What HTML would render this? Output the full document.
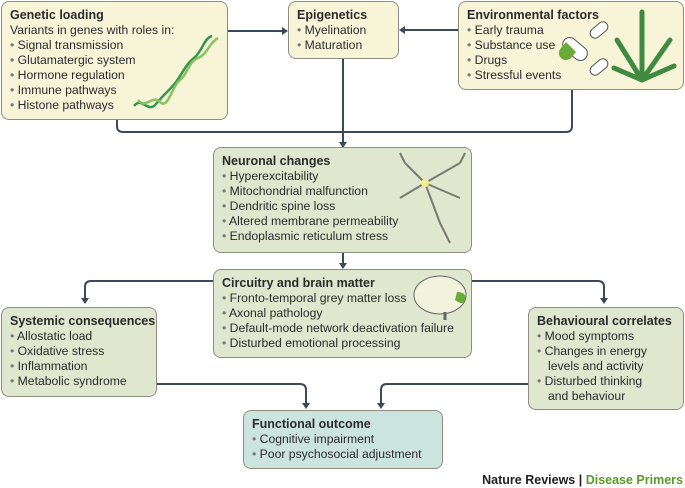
<!DOCTYPE html>
<html><head><style>
body{margin:0;width:685px;height:488px;background:#fff;position:relative;overflow:hidden;font-family:"Liberation Sans",sans-serif;color:#2b2b2b}
.b{position:absolute;box-sizing:border-box;border:1px solid #8e8e80;border-radius:8px;font-size:12.2px;line-height:15px;padding:6px 0 0 8px;white-space:nowrap}
.y{background:#f7f4d8}.g{background:#dfe7cf}.t{background:#cbe4dd}
.b b{font-weight:bold;font-size:12.5px;display:block}
.d{padding-left:11px;text-indent:-11px}
.d:before{content:"• ";color:#777}
.i{padding-left:11px}
svg{position:absolute;left:0;top:0}
</style></head><body>
<svg width="685" height="488">
<g fill="none" stroke="#3a4a5a" stroke-width="2">
<path d="M228 31H283"/><path d="M458 30H404"/>
<path d="M117 120V126q0 6 6 6H566q6 0 6-6V90"/>
<path d="M343 59V143"/>
<path d="M343 253V264"/>
<path d="M213 281H91q-6 0-6 6V299"/>
<path d="M472 281H598q6 0 6 6V299"/>
<path d="M157 384H300q6 0 6 6V404"/>
<path d="M528 384H387q-6 0-6 6V404"/>
</g>
<g fill="#3a4a5a">
<path d="M288 31l-6-4v8z"/><path d="M399 30l6-4v8z"/>
<path d="M343 148l-4-6h8z"/><path d="M343 269l-4-6h8z"/>
<path d="M85 304l-4-6h8z"/><path d="M604 304l-4-6h8z"/>
<path d="M306 409l-4-6h8z"/><path d="M381 409l-4-6h8z"/>
</g>
</svg>
<div class="b y" style="left:1px;top:1px;width:227px;height:119px"><b>Genetic loading</b>Variants in genes with roles in:<div class="d">Signal transmission</div><div class="d">Glutamatergic system</div><div class="d">Hormone regulation</div><div class="d">Immune pathways</div><div class="d">Histone pathways</div></div>
<div class="b y" style="left:288px;top:1px;width:111px;height:58px"><b>Epigenetics</b><div class="d">Myelination</div><div class="d">Maturation</div></div>
<div class="b y" style="left:458px;top:1px;width:226px;height:89px"><b>Environmental factors</b><div class="d">Early trauma</div><div class="d">Substance use</div><div class="d">Drugs</div><div class="d">Stressful events</div></div>
<div class="b g" style="left:213px;top:147px;width:259px;height:106px"><b>Neuronal changes</b><div class="d">Hyperexcitability</div><div class="d">Mitochondrial malfunction</div><div class="d">Dendritic spine loss</div><div class="d">Altered membrane permeability</div><div class="d">Endoplasmic reticulum stress</div></div>
<div class="b g" style="left:213px;top:269px;width:259px;height:89px"><b>Circuitry and brain matter</b><div class="d">Fronto-temporal grey matter loss</div><div class="d">Axonal pathology</div><div class="d">Default-mode network deactivation failure</div><div class="d">Disturbed emotional processing</div></div>
<div class="b g" style="left:1px;top:307px;width:156px;height:90px"><b>Systemic consequences</b><div class="d">Allostatic load</div><div class="d">Oxidative stress</div><div class="d">Inflammation</div><div class="d">Metabolic syndrome</div></div>
<div class="b g" style="left:528px;top:307px;width:156px;height:103px"><b>Behavioural correlates</b><div class="d">Mood symptoms</div><div class="d">Changes in energy</div><div class="i">levels and activity</div><div class="d">Disturbed thinking</div><div class="i">and behaviour</div></div>
<div class="b t" style="left:243px;top:410px;width:200px;height:59px"><b>Functional outcome</b><div class="d">Cognitive impairment</div><div class="d">Poor psychosocial adjustment</div></div>
<div style="position:absolute;right:2px;top:473px;font-size:12.5px;font-weight:bold;color:#222">Nature Reviews | <span style="color:#5a9a2a">Disease Primers</span></div>
<svg width="685" height="488">
<g fill="none" stroke-width="2.5">
<path d="M134 106c8-10 14 8 22-2s14-14 20-22s10-18 18-24s10-20 18-22" stroke="#2e9a48"/>
<path d="M138 100c8 10 14-6 22 2s12-16 20-22s8-18 18-22s10-14 20-20" stroke="#8cc063"/>
</g>
<g>
<rect x="568" y="35" width="14" height="28" rx="7" transform="rotate(-50 575 49)" fill="#fff" stroke="#555"/>
<path d="M566 42l-5 6a7 7 0 0 0 10 10l5-6z" fill="#6aaa3a"/>
<rect x="594" y="20" width="10" height="20" rx="5" transform="rotate(50 599 30)" fill="#fff" stroke="#555"/>
<rect x="594" y="57" width="10" height="20" rx="5" transform="rotate(50 599 67)" fill="#fff" stroke="#555"/>
<path d="M642 80L642 12M642 80L617 40M642 80L670 40M642 80L614 68M642 80L674 66" stroke="#3f8a3f" stroke-width="5" stroke-linecap="round"/>
</g>
<g fill="none" stroke="#7a7a70" stroke-width="2">
<path d="M425 183l-20-20M425 183l35-20M425 183l-25 15M425 183l15 40l10 20M425 183l35 15M405 163l-5-10M460 163l5-10"/>
</g>
<circle cx="425" cy="183" r="4" fill="#f3f08a"/>
<ellipse cx="440" cy="295" rx="26" ry="19" fill="#f2f3dc" stroke="#666"/>
<path d="M455 300q8 6 10 0q2-8-8-8z" fill="#6aaa3a"/>
<path d="M445 312v8" stroke="#666" stroke-width="3"/>
</svg>
</body></html>
